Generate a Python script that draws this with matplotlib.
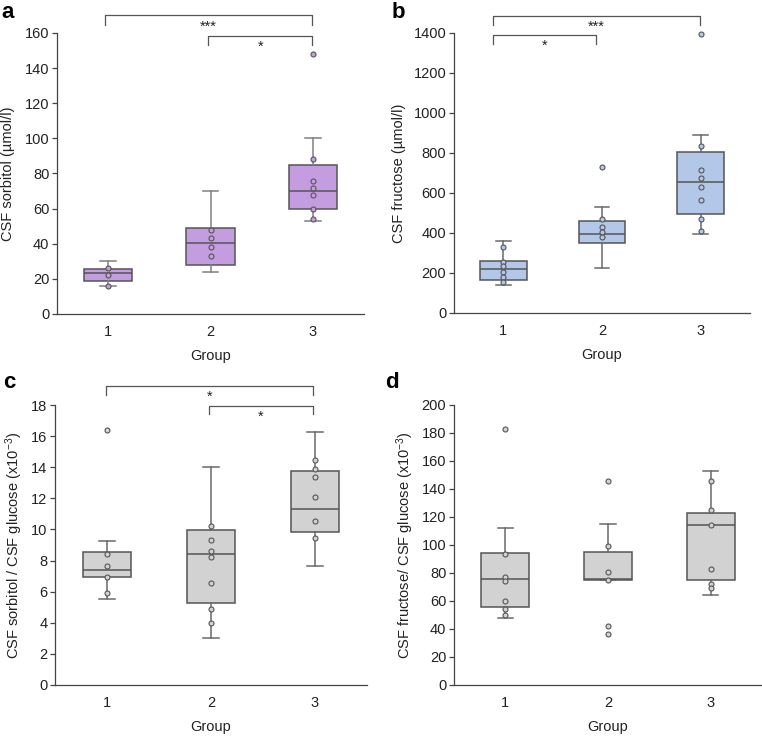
import matplotlib
matplotlib.use("Agg")
import matplotlib.pyplot as plt

plt.rcParams['font.family'] = ['Liberation Sans', 'DejaVu Sans']
plt.rcParams['mathtext.fontset'] = 'custom'
plt.rcParams['mathtext.rm'] = 'Liberation Sans'
plt.rcParams['mathtext.it'] = 'Liberation Sans:italic'

groups = ['1', '2', '3']

# Panel a: CSF sorbitol
a_whislo = [16, 24, 53]
a_q1 = [19, 27.7, 60]
a_med = [23.1, 40.6, 70]
a_q3 = [25.4, 48.7, 85]
a_whishi = [30, 70, 100]
a_points = [[26, 22, 16], [48, 43, 38, 33], [148, 88, 76, 72, 68, 60, 54]]

# Panel b: CSF fructose
b_whislo = [138, 225, 393]
b_q1 = [165, 350, 495]
b_med = [218, 393, 653]
b_q3 = [262, 458, 803]
b_whishi = [360, 528, 892]
b_points = [[328, 253, 233, 203, 180, 155], [732, 468, 428, 403, 380],
            [1395, 835, 717, 675, 632, 567, 472, 412]]

# Panel c: sorbitol / glucose
c_whislo = [5.5, 3.05, 7.67]
c_q1 = [6.95, 5.3, 9.86]
c_med = [7.37, 8.42, 11.31]
c_q3 = [8.55, 9.97, 13.74]
c_whishi = [9.28, 14.0, 16.27]
c_points = [[16.37, 8.42, 7.65, 6.95, 5.91], [10.22, 9.32, 8.59, 8.25, 6.58, 4.91, 4.01],
            [14.44, 13.91, 13.35, 12.06, 10.52, 9.47]]

# Panel d: fructose / glucose
d_whislo = [48, 74.8, 64]
d_q1 = [55.6, 74.8, 75.3]
d_med = [76, 75.8, 114.3]
d_q3 = [94.3, 94.8, 122.6]
d_whishi = [112, 115.2, 153.2]
d_points = [[183, 93.8, 77.2, 74.1, 59.9, 54.6, 49.9], [146, 99.5, 81, 75.1, 42, 36.6],
            [146, 124.9, 114, 82.7, 72.4, 69.1]]

W, H = 762, 736
fig = plt.figure(figsize=(W / 100, H / 100), dpi=100)

def px_axes(l, r, b, t):
    return fig.add_axes([l / W, 1 - b / H, (r - l) / W, (b - t) / H])

edge = '#555555'
wcol = '#6a6a6a'

def panel(ax, whislo, q1, med, q3, whishi, points, color, ylim, yticks, ylabel, lblx,
          brackets, wcolor=wcol):
    stats = []
    for i in range(3):
        stats.append(dict(whislo=whislo[i], q1=q1[i], med=med[i], q3=q3[i],
                          whishi=whishi[i], fliers=[], label=groups[i]))
    ax.bxp(stats, positions=[1, 2, 3], widths=0.47, capwidths=0.15, patch_artist=True,
           showfliers=False,
           boxprops=dict(facecolor=color, edgecolor=edge, linewidth=1.1),
           medianprops=dict(color=edge, linewidth=1.1),
           whiskerprops=dict(color=wcolor, linewidth=1.1),
           capprops=dict(color=wcolor, linewidth=1.1))
    for i, pts in enumerate(points):
        ax.plot([i + 1] * len(pts), pts, 'o', ms=3.6, mfc=color, mec=edge, mew=0.8,
                zorder=5, clip_on=False)
    ax.set_xlim(0.5, 3.5)
    ax.set_ylim(*ylim)
    ax.set_yticks(yticks)
    ax.set_xticks([1, 2, 3])
    ax.set_xticklabels(groups)
    for s in ['top', 'right']:
        ax.spines[s].set_visible(False)
    for s in ['left', 'bottom']:
        ax.spines[s].set_color('#444444')
        ax.spines[s].set_linewidth(0.9)
    ax.tick_params(axis='x', length=0, pad=8, labelsize=10.5, colors='#222222')
    ax.tick_params(axis='y', length=3.5, width=0.9, pad=2, labelsize=10.5,
                   colors='#444444', labelcolor='#222222')
    ax.set_xlabel('Group', fontsize=10.5, color='#222222')
    ax.xaxis.set_label_coords(0.5, -0.125)
    ax.set_ylabel(ylabel, fontsize=10.5, color='#222222')
    ax.yaxis.set_label_coords(lblx, 0.5)
    for (x0, x1, y, drop, txt) in brackets:
        ax.plot([x0, x0, x1, x1], [y - drop, y, y, y - drop], color='#555555', lw=0.9,
                clip_on=False)
        ax.annotate(txt, xy=((x0 + x1) / 2, y), xytext=(0, -3), textcoords='offset points',
                    ha='center', va='top', fontsize=10.5, color='#222222',
                    annotation_clip=False)

ax_a = px_axes(57, 364, 314, 33)
panel(ax_a, a_whislo, a_q1, a_med, a_q3, a_whishi, a_points, '#c49de0', (0, 160),
      range(0, 161, 20), 'CSF sorbitol (µmol/l)', -0.137,
      [(0.97, 2.99, 170, 5.5, '***'), (1.98, 2.99, 158.5, 5.5, '*')], wcolor='#808080')

ax_b = px_axes(454, 750, 313, 33)
panel(ax_b, b_whislo, b_q1, b_med, b_q3, b_whishi, b_points, '#b3c7e8', (0, 1400),
      range(0, 1401, 200), 'CSF fructose (µmol/l)', -0.162,
      [(0.9, 2.99, 1485, 45, '***'), (0.9, 1.94, 1390, 45, '*')])

ax_c = px_axes(55, 367, 685, 405)
panel(ax_c, c_whislo, c_q1, c_med, c_q3, c_whishi, c_points, '#d3d2d3', (0, 18),
      range(0, 19, 2), r'CSF sorbitol / CSF glucose (x10$^{\mathregular{-3}}$)', -0.096,
      [(0.99, 2.98, 19.24, 0.62, '*'), (1.98, 2.98, 17.96, 0.56, '*')])

ax_d = px_axes(454, 762, 685, 405)
panel(ax_d, d_whislo, d_q1, d_med, d_q3, d_whishi, d_points, '#d3d2d3', (0, 200),
      range(0, 201, 20), r'CSF fructose/ CSF glucose (x10$^{\mathregular{-3}}$)', -0.123,
      [])

for lbl, x, y in [('a', 1, 2), ('b', 392, 2), ('c', 3, 372), ('d', 385, 372)]:
    fig.text(x / W, 1 - y / H, lbl, fontsize=16, fontweight='bold', ha='left', va='top')

fig.savefig('out.png', dpi=100)
